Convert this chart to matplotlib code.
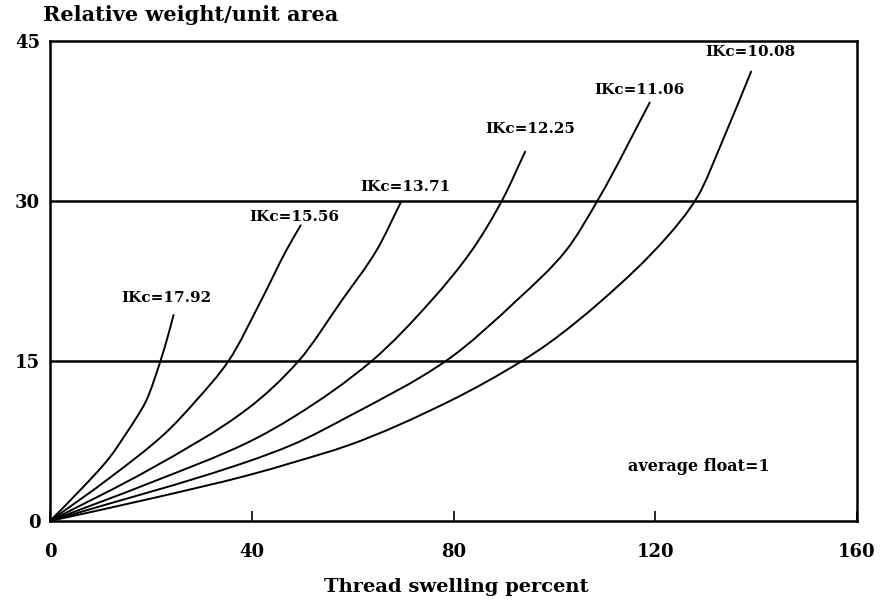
import matplotlib
matplotlib.use("Agg")
import matplotlib.pyplot as plt
import numpy as np
from matplotlib.path import Path
from matplotlib.patches import PathPatch

# ---- data ----
labels = ["IKc=17.92", "IKc=15.56", "IKc=13.71", "IKc=12.25", "IKc=11.06", "IKc=10.08"]

x_1792 = [0, 6, 11.9, 15.1, 16.9, 19.1, 21.9, 23.3, 24.5]
y_1792 = [0, 2.9, 6.0, 8.2, 9.5, 11.3, 15.0, 17.2, 19.3]

x_1556 = [0, 12, 22.9, 29.0, 35.4, 41.9, 46.9, 49.7]
y_1556 = [0, 4.1, 8.25, 11.3, 15.0, 20.7, 25.4, 27.7]

x_1371 = [0, 20, 39.4, 49.3, 57.9, 64.8, 69.6]
y_1371 = [0, 4.9, 10.6, 15.0, 20.7, 25.4, 29.9]

x_1225 = [0, 20, 39.4, 48.3, 63.8, 75.7, 83.7, 89.7, 94.2]
y_1225 = [0, 3.6, 7.4, 9.75, 15.0, 20.7, 25.4, 30.1, 34.6]

x_1106 = [0, 39.4, 48.3, 59.2, 78.5, 92.6, 102.4, 108.9, 118.9]
y_1106 = [0, 5.6, 7.2, 9.8, 15.0, 20.7, 25.4, 30.3, 39.2]

x_1008 = [0, 20, 39.4, 48.3, 59.2, 79.1, 93.6, 99.0, 109.5, 122.3, 128.4, 133.5, 139.0]
y_1008 = [0, 2.1, 4.3, 5.5, 7.1, 11.2, 15.0, 16.7, 20.7, 26.6, 30.4, 35.8, 42.1]

label_x = [23.1, 48.5, 70.4, 95.2, 116.9, 138.8]
label_y = [20.9, 28.5, 31.3, 36.75, 40.4, 43.9]

note_text = "average float=1"
note_x, note_y = 128.6, 5.1

ref_levels = [15, 30]
x_ticks = [0, 40, 80, 120, 160]
y_ticks = [0, 15, 30, 45]


def smooth_path(xs, ys):
    """Monotone (Fritsch-Carlson) cubic Bezier path through the read points."""
    x = np.asarray(xs, float)
    y = np.asarray(ys, float)
    h = np.diff(x)
    d = np.diff(y) / h
    n = len(x)
    m = np.empty(n)
    m[0], m[-1] = d[0], d[-1]
    for i in range(1, n - 1):
        if d[i - 1] * d[i] <= 0:
            m[i] = 0.0
        else:
            w1 = 2 * h[i] + h[i - 1]
            w2 = h[i] + 2 * h[i - 1]
            m[i] = (w1 + w2) / (w1 / d[i - 1] + w2 / d[i])
    verts = [(x[0], y[0])]
    codes = [Path.MOVETO]
    for i in range(n - 1):
        verts += [(x[i] + h[i] / 3, y[i] + m[i] * h[i] / 3),
                  (x[i + 1] - h[i] / 3, y[i + 1] - m[i + 1] * h[i] / 3),
                  (x[i + 1], y[i + 1])]
        codes += [Path.CURVE4] * 3
    return Path(verts, codes)


# ---- figure ----
FONT = "DejaVu Serif"
fig = plt.figure(figsize=(8.81, 6.05), dpi=100)
ax = fig.add_axes([50/881, 1-521/605, (857-50)/881, (521-40.7)/605])

series = [(x_1792, y_1792), (x_1556, y_1556), (x_1371, y_1371),
          (x_1225, y_1225), (x_1106, y_1106), (x_1008, y_1008)]
for (xs, ys) in series:
    ax.add_patch(PathPatch(smooth_path(xs, ys), facecolor="none",
                           edgecolor="black", lw=1.4, capstyle="round"))

for lv in ref_levels:
    ax.axhline(lv, color="black", lw=1.8)

for lab, lx, ly in zip(labels, label_x, label_y):
    ax.text(lx, ly, lab, ha="center", va="center", fontsize=11,
            fontweight="bold", family=FONT)

ax.text(note_x, note_y, note_text, ha="center", va="center",
        fontsize=11.5, fontweight="bold", family=FONT)

ax.set_xlim(0, 160)
ax.set_ylim(0, 45)
ax.set_xticks(x_ticks)
ax.set_yticks(y_ticks)
ax.tick_params(axis="x", direction="in", length=7, width=1.2, pad=16)
ax.tick_params(axis="y", length=0, pad=7)
for lab in ax.get_xticklabels() + ax.get_yticklabels():
    lab.set_fontsize(13)
    lab.set_fontweight("bold")
    lab.set_family(FONT)
for sp in ax.spines.values():
    sp.set_linewidth(1.8)
    sp.set_color("black")

fig.text(43/881, 1-15/605, "Relative weight/unit area", ha="left", va="center",
         fontsize=15, fontweight="bold", family=FONT)
fig.text(456/881, 1-587/605, "Thread swelling percent", ha="center", va="center",
         fontsize=14, fontweight="bold", family=FONT)

fig.savefig("out.png", dpi=100)
